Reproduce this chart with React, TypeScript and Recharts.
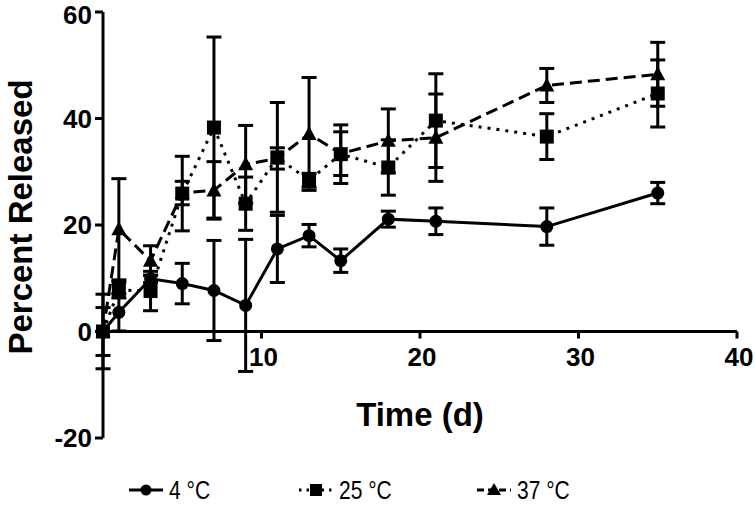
import React from 'react';
import { LineChart, Line, XAxis, YAxis, ErrorBar, ReferenceLine, Legend, Customized } from 'recharts';

// release data (mean, SD)
const times = [0, 1, 3, 5, 7, 9, 11, 13, 15, 18, 21, 28, 35];
const temp4 = [0, 3.6, 9.9, 9.0, 7.7, 4.9, 15.5, 18.0, 13.3, 21.1, 20.7, 19.7, 26.0];
const temp4Sd = [0, 3.5, 0.7, 3.8, 9.4, 12.4, 6.3, 2.1, 2.2, 1.5, 2.5, 3.5, 2.0];
const temp25 = [0, 7.8, 7.6, 25.9, 38.3, 24.0, 32.7, 28.4, 33.3, 30.8, 39.6, 36.6, 44.7];
const temp25Sd = [4.5, 1.5, 3.7, 7.0, 17.0, 5.0, 10.3, 1.3, 5.5, 5.2, 8.8, 4.3, 6.3];
const temp37 = [0, 19.2, 13.3, 26.0, 26.5, 31.4, 32.5, 37.1, 33.4, 35.8, 36.4, 46.2, 48.3];
const temp37Sd = [7.0, 9.5, 2.8, 2.2, 5.4, 7.3, 2.0, 10.6, 4.1, 6.0, 8.2, 3.2, 6.0];

const xTicks = [10, 20, 30, 40];
const yTicks = [-20, 0, 20, 40, 60];
const seriesNames = ['4 °C', '25 °C', '37 °C'];

const data = times.map((t, i) => ({
  time: t,
  t4: temp4[i],
  t4sd: temp4Sd[i],
  t25: temp25[i],
  t25sd: temp25Sd[i],
  t37: temp37[i],
  t37sd: temp37Sd[i],
}));

const W = 755;
const H = 510;
const margin = { top: 12, right: 18, left: 0, bottom: 0 };
const X_AXIS_H = 32;
const LEGEND_H = 40;
const plotH = H - margin.top - margin.bottom - X_AXIS_H - LEGEND_H;
const zeroY = margin.top + (plotH * 60) / 80;

const FONT = "'Liberation Sans', Arial, Helvetica, sans-serif";

const XTick = (props: any) => {
  const { x, payload } = props;
  return (
    <g>
      <line x1={x} x2={x} y1={zeroY} y2={zeroY + 7} stroke="#000" strokeWidth={3} />
      <text x={x + 2} y={zeroY + 34} textAnchor="middle" fontSize={26} fontWeight="bold" fill="#000" fontFamily={FONT}>
        {payload.value}
      </text>
    </g>
  );
};

const CircleDot = (p: any) => <circle key={`c${p.index}`} cx={p.cx} cy={p.cy} r={6.5} fill="#000" />;
const SquareDot = (p: any) => <rect key={`s${p.index}`} x={p.cx - 7} y={p.cy - 7} width={14} height={14} fill="#000" />;
const TriDot = (p: any) => (
  <polygon
    key={`t${p.index}`}
    points={`${p.cx},${p.cy - 8} ${p.cx - 7.5},${p.cy + 6} ${p.cx + 7.5},${p.cy + 6}`}
    fill="#000"
  />
);

const LegendContent = () => {
  const item = (left: number, dash: string | undefined, marker: React.ReactNode, label: string) => (
    <div style={{ position: 'absolute', left, top: 0, height: LEGEND_H, display: 'flex', alignItems: 'center' }}>
      <svg width={36} height={20}>
        <line x1={0} x2={34} y1={10} y2={10} stroke="#000" strokeWidth={3} strokeDasharray={dash} />
        {marker}
      </svg>
      <span
        style={{
          fontFamily: FONT,
          fontSize: 25,
          color: '#000',
          marginLeft: 4,
          display: 'inline-block',
          transform: 'scaleX(0.84)',
          transformOrigin: 'left center',
        }}
      >
        {label}
      </span>
    </div>
  );
  return (
    <div style={{ position: 'relative', width: W, height: LEGEND_H }}>
      {item(129, undefined, <circle cx={17} cy={10} r={5.5} fill="#000" />, seriesNames[0])}
      {item(299, '2.5 5', <rect x={11} y={4} width={12} height={12} fill="#000" />, seriesNames[1])}
      {item(477, '7 4', <polygon points="17,3 10,15 24,15" fill="#000" />, seriesNames[2])}
    </div>
  );
};

const AxisTitles = () => (
  <g fontFamily={FONT} fontWeight="bold" fill="#000">
    <text x={420} y={426} textAnchor="middle" fontSize={33}>Time (d)</text>
    <text transform="translate(32, 217) rotate(-90)" textAnchor="middle" fontSize={33}>Percent Released</text>
  </g>
);

export default function App() {
  return (
    <div style={{ position: 'absolute', left: 0, top: 0, fontFamily: FONT }}>
      <LineChart width={W} height={H} data={data} margin={margin}>
        <XAxis
          dataKey="time"
          type="number"
          domain={[0, 40]}
          ticks={xTicks}
          height={X_AXIS_H}
          axisLine={false}
          tickLine={false}
          tick={<XTick />}
        />
        <YAxis
          type="number"
          domain={[-20, 60]}
          ticks={yTicks}
          width={103}
          axisLine={{ stroke: '#000', strokeWidth: 3 }}
          tickLine={{ stroke: '#000', strokeWidth: 3 }}
          tickSize={8}
          tickMargin={3}
          tick={{ fontSize: 26, fontWeight: 'bold', fill: '#000', fontFamily: FONT }}
        />
        <ReferenceLine y={0} stroke="#000" strokeWidth={3} />
        <Line
          dataKey="t4"
          stroke="#000"
          strokeWidth={3}
          dot={CircleDot}
          activeDot={false}
          isAnimationActive={false}
          name={seriesNames[0]}
        >
          <ErrorBar dataKey="t4sd" direction="y" width={7.5} stroke="#000" strokeWidth={3} isAnimationActive={false} />
        </Line>
        <Line
          dataKey="t25"
          stroke="#000"
          strokeWidth={3}
          strokeDasharray="3 6"
          dot={SquareDot}
          activeDot={false}
          isAnimationActive={false}
          name={seriesNames[1]}
        >
          <ErrorBar dataKey="t25sd" direction="y" width={7.5} stroke="#000" strokeWidth={3} isAnimationActive={false} />
        </Line>
        <Line
          dataKey="t37"
          stroke="#000"
          strokeWidth={3}
          strokeDasharray="12 6"
          dot={TriDot}
          activeDot={false}
          isAnimationActive={false}
          name={seriesNames[2]}
        >
          <ErrorBar dataKey="t37sd" direction="y" width={7.5} stroke="#000" strokeWidth={3} isAnimationActive={false} />
        </Line>
        <Legend verticalAlign="bottom" wrapperStyle={{ left: 0, width: W }} content={<LegendContent />} />
        <Customized component={<AxisTitles />} />
      </LineChart>
    </div>
  );
}
